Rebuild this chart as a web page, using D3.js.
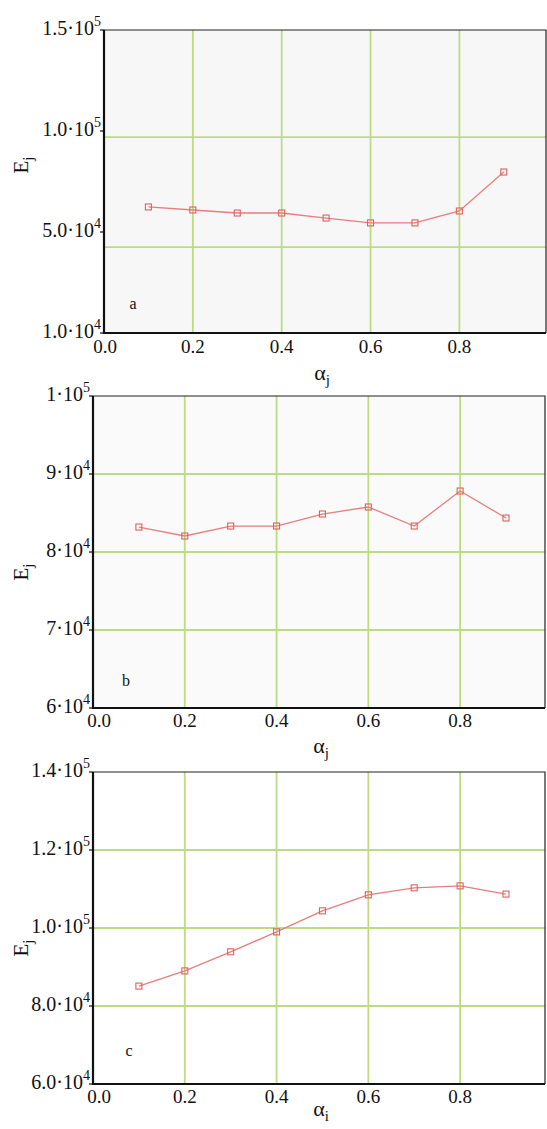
<!DOCTYPE html>
<html><head><meta charset="utf-8">
<script src="https://cdn.jsdelivr.net/npm/d3@7"></script>
<style>
body{margin:0;background:#fff;}
svg text{font-family:"Liberation Serif",Tinos,"DejaVu Serif","Times New Roman",serif;fill:#111;}
</style></head>
<body><svg id="chart" width="547" height="1129"></svg>
<script>
// ---------- data ----------
const alphaA = [0.1,0.2,0.3,0.4,0.5,0.6,0.7,0.8,0.9];
const valuesA = [62400,60900,59400,59400,56900,54500,54500,60400,79700];
const alphaB = [0.1,0.2,0.3,0.4,0.5,0.6,0.7,0.8,0.9];
const valuesB = [83200,82050,83330,83330,84870,85770,83330,87820,84360];
const alphaC = [0.1,0.2,0.3,0.4,0.5,0.6,0.7,0.8,0.9];
const valuesC = [85100,89000,93900,99000,104400,108500,110300,110800,108700];

const xTicks = [0.0,0.2,0.4,0.6,0.8];
const xTickLabels = ["0.0","0.2","0.4","0.6","0.8"];
const xGrid = [0.2,0.4,0.6,0.8];

const yTicksA = [1e4,5e4,1e5,1.5e5];
const yTickLabelsA = [["1.0·10","4"],["5.0·10","4"],["1.0·10","5"],["1.5·10","5"]];
const yGridA = [44000,97000];

const yTicksB = [6e4,7e4,8e4,9e4,1e5];
const yTickLabelsB = [["6·10","4"],["7·10","4"],["8·10","4"],["9·10","4"],["1·10","5"]];
const yGridB = [7e4,8e4,9e4];

const yTicksC = [6e4,8e4,1e5,1.2e5,1.4e5];
const yTickLabelsC = [["6.0·10","4"],["8.0·10","4"],["1.0·10","5"],["1.2·10","5"],["1.4·10","5"]];
const yGridC = [8e4,1e5,1.2e5];

const panels = [
  {letter:"a", xs:alphaA, ys:valuesA, yTicks:yTicksA, yLabels:yTickLabelsA, yGrid:yGridA,
   box:{l:104,r:546,t:30,b:333}, xMax:0.995, poly:true, bg:"#f7f7f7", xsub:"j",
   letterPos:[133,309], yLabelY:165, xTitleY:380, xLabY:353, x0shift:1},
  {letter:"b", xs:alphaB, ys:valuesB, yTicks:yTicksB, yLabels:yTickLabelsB, yGrid:yGridB,
   box:{l:93,r:545,t:396,b:708}, xMax:0.985, poly:false, bg:"#fafafa", xsub:"j",
   letterPos:[126,686], yLabelY:572, xTitleY:753, xLabY:727, x0shift:6},
  {letter:"c", xs:alphaC, ys:valuesC, yTicks:yTicksC, yLabels:yTickLabelsC, yGrid:yGridC,
   box:{l:93,r:545,t:772,b:1084}, xMax:0.985, poly:false, bg:"#ffffff", xsub:"i",
   letterPos:[129,1056], yLabelY:948, xTitleY:1116, xLabY:1103, x0shift:6}
];

const FONT = "'Liberation Serif', Tinos, 'DejaVu Serif', 'Times New Roman', serif";
const svg = d3.select("#chart");
const gridColor = "#bddc82";
const lineColor = "#e87d7d";

panels.forEach(p => {
  const g = svg.append("g").attr("font-family", FONT);
  const B = p.box;
  const x = d3.scaleLinear().domain([0,p.xMax]).range([B.l,B.r]);
  let y;
  if (p.poly) {
    const n = p.yTicks.length;
    y = d3.scaleLinear().domain(p.yTicks).range(p.yTicks.map((d,i)=>B.b - i*(B.b-B.t)/(n-1)));
  } else {
    y = d3.scaleLinear().domain([p.yTicks[0], p.yTicks[p.yTicks.length-1]]).range([B.b,B.t]);
  }
  g.append("rect").attr("x",B.l).attr("y",B.t).attr("width",B.r-B.l).attr("height",B.b-B.t).attr("fill",p.bg);
  g.selectAll(".gx").data(xGrid).enter().append("line")
    .attr("x1",d=>x(d)).attr("x2",d=>x(d)).attr("y1",B.t).attr("y2",B.b)
    .attr("stroke",gridColor).attr("stroke-width",1.8);
  g.selectAll(".gy").data(p.yGrid).enter().append("line")
    .attr("x1",B.l).attr("x2",B.r).attr("y1",d=>y(d)).attr("y2",d=>y(d))
    .attr("stroke",gridColor).attr("stroke-width",1.8);
  const pts = p.xs.map((v,i)=>[v,p.ys[i]]);
  g.append("path").datum(pts)
    .attr("d", d3.line().x(d=>x(d[0])).y(d=>y(d[1])))
    .attr("fill","none").attr("stroke",lineColor).attr("stroke-width",1.3);
  g.selectAll(".m").data(pts).enter().append("rect")
    .attr("x",d=>x(d[0])-3).attr("y",d=>y(d[1])-3).attr("width",6).attr("height",6)
    .attr("fill","none").attr("stroke","#e06060").attr("stroke-width",1.1);
  g.append("path").attr("d",`M${B.l},${B.t}H${B.r}V${B.b}`)
    .attr("fill","none").attr("stroke","#222").attr("stroke-width",1.2);
  g.append("path").attr("d",`M${B.r},${B.b}H${B.l}V${B.t}`)
    .attr("fill","none").attr("stroke","#111").attr("stroke-width",2.2);
  p.yTicks.forEach((v,i)=>{
    const yy = y(v);
    g.append("line").attr("x1",B.l-4).attr("x2",B.l).attr("y1",yy).attr("y2",yy)
      .attr("stroke","#111").attr("stroke-width",1.2);
    const t = g.append("text").attr("x",B.l-3).attr("y",yy+5)
      .attr("text-anchor","end").attr("font-size",20);
    t.append("tspan").text(p.yLabels[i][0]);
    t.append("tspan").attr("dy",-9).attr("font-size",14).text(p.yLabels[i][1]);
  });
  xTicks.forEach((v,i)=>{
    g.append("text").attr("x",x(v)+(i===0?p.x0shift:0)).attr("y",p.xLabY)
      .attr("text-anchor","middle").attr("font-size",19).text(xTickLabels[i]);
  });
  const xt = g.append("text").attr("x",(B.l+B.r)/2+(p.letter==="a"?-3:2)).attr("y",p.xTitleY)
    .attr("text-anchor","middle").attr("font-size",22);
  xt.append("tspan").text("α");
  xt.append("tspan").attr("dy",5).attr("font-size",15).text(p.xsub);
  const yt = g.append("text").attr("transform",`translate(28,${p.yLabelY}) rotate(-90)`)
    .attr("text-anchor","middle").attr("font-size",21);
  yt.append("tspan").text("E");
  yt.append("tspan").attr("dy",5).attr("font-size",15).text("j");
  g.append("text").attr("x",p.letterPos[0]).attr("y",p.letterPos[1])
    .attr("text-anchor","middle").attr("font-size",16).text(p.letter);
});
</script></body></html>
